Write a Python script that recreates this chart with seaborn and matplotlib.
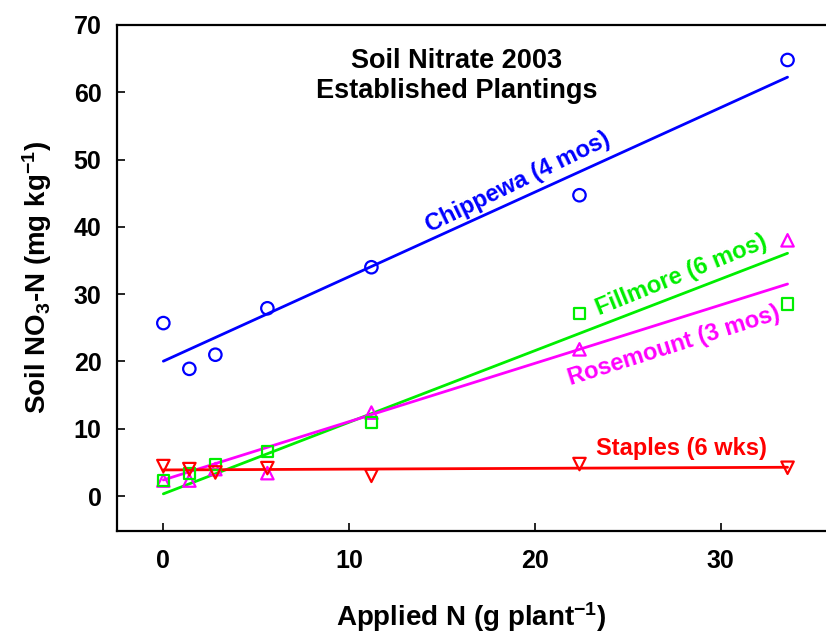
"""
Soil nitrate vs applied N for four established plantings (2003),
open markers per site with a straight least-squares line for each.
"""

import matplotlib
matplotlib.use("Agg")
import matplotlib.pyplot as plt
import pandas as pd
import seaborn as sns

# applied N, g per plant
applied_n = [0, 1.4, 2.8, 5.6, 11.2, 22.4, 33.6]

# soil NO3-N, mg/kg
chippewa = [25.7, 18.9, 21.0, 27.9, 34.0, 44.7, 64.8]
fillmore = [2.3, 3.35, 4.7, 6.6, 10.9, 27.1, 28.5]
rosemount = [2.3, 2.3, 4.0, 3.4, 12.4, 21.8, 38.0]
staples = [4.45, 4.0, 3.5, 4.15, 3.0, 4.75, 4.2]

site_labels = ["Chippewa (4 mos)", "Fillmore (6 mos)", "Rosemount (3 mos)", "Staples (6 wks)"]
x_ticks = [0, 10, 20, 30]
y_ticks = [0, 10, 20, 30, 40, 50, 60, 70]

BLUE = "#0000ff"
GREEN = "#00ee00"
MAGENTA = "#ff00ff"
RED = "#ff0000"

sns.set_theme(style="white")
plt.rcParams["font.family"] = ["Liberation Sans", "DejaVu Sans"]
plt.rcParams["font.weight"] = "bold"
plt.rcParams["text.color"] = "black"
plt.rcParams["axes.labelcolor"] = "black"
plt.rcParams["mathtext.fontset"] = "custom"
plt.rcParams["mathtext.rm"] = "Liberation Sans:bold"
plt.rcParams["mathtext.it"] = "Liberation Sans:bold"
plt.rcParams["mathtext.bf"] = "Liberation Sans:bold"
plt.rcParams["mathtext.default"] = "rm"

df = pd.DataFrame({
    "n": applied_n,
    "chippewa": chippewa,
    "fillmore": fillmore,
    "rosemount": rosemount,
    "staples": staples,
})

fig = plt.figure(figsize=(8.26, 6.36), dpi=100)
ax = fig.add_axes([0.1413, 0.1656, 0.8587, 0.7951])

# fitted lines; the source figure draws the Fillmore fit in magenta
# and the Rosemount fit in green, kept that way here
line_kw = dict(scatter=False, ci=None, truncate=True, ax=ax)
sns.regplot(data=df, x="n", y="chippewa", line_kws=dict(color=BLUE, lw=2.0), **line_kw)
sns.regplot(data=df, x="n", y="rosemount", line_kws=dict(color=GREEN, lw=2.0), **line_kw)
sns.regplot(data=df, x="n", y="fillmore", line_kws=dict(color=MAGENTA, lw=2.0), **line_kw)
sns.regplot(data=df, x="n", y="staples", line_kws=dict(color=RED, lw=2.0), **line_kw)

markers = [
    ("chippewa", "o", BLUE, 80),
    ("rosemount", "^", MAGENTA, 80),
    ("fillmore", "s", GREEN, 70),
    ("staples", "v", RED, 80),
]
for col, mk, c, size in markers:
    sns.scatterplot(data=df, x="n", y=col, marker=mk, s=size, facecolor="none",
                    edgecolor=c, linewidth=1.6, ax=ax, zorder=3)

ax.set_xlim(-2.51, 35.67)
ax.set_ylim(-5.15, 70)
ax.set_xticks(x_ticks)
ax.set_yticks(y_ticks)
ax.tick_params(axis="both", direction="in", length=6, width=1.2, labelsize=18,
               color="black", labelcolor="black", bottom=True, left=True)
ax.tick_params(axis="y", pad=11)
ax.tick_params(axis="x", pad=13)
for lab in ax.get_xticklabels() + ax.get_yticklabels():
    lab.set_fontweight("bold")

for side in ["left", "bottom", "top"]:
    ax.spines[side].set_color("black")
    ax.spines[side].set_linewidth(1.6)
ax.spines["right"].set_visible(False)

ax.set_xlabel("Applied N (g plant$^{-1}$)", fontsize=20, fontweight="bold", labelpad=20)
ax.set_ylabel("Soil NO$_3$-N (mg kg$^{-1}$)", fontsize=20, fontweight="bold", labelpad=14)

fig.text(456.5 / 826, 1 - 75.5 / 636, "Soil Nitrate 2003\nEstablished Plantings",
         ha="center", va="center", fontsize=19.5, fontweight="bold", linespacing=1.2)

# site labels set along their lines
ax.text(19.1, 46.6, site_labels[0], color=BLUE, fontsize=17, fontweight="bold",
        rotation=26, ha="center", va="center", rotation_mode="anchor")
ax.text(27.9, 32.8, site_labels[1], color=GREEN, fontsize=17, fontweight="bold",
        rotation=22, ha="center", va="center", rotation_mode="anchor")
ax.text(27.5, 22.3, site_labels[2], color=MAGENTA, fontsize=17, fontweight="bold",
        rotation=17.5, ha="center", va="center", rotation_mode="anchor")
ax.text(27.9, 7.0, site_labels[3], color=RED, fontsize=17, fontweight="bold",
        ha="center", va="center")

fig.savefig("out.png", dpi=100)
plt.close(fig)
